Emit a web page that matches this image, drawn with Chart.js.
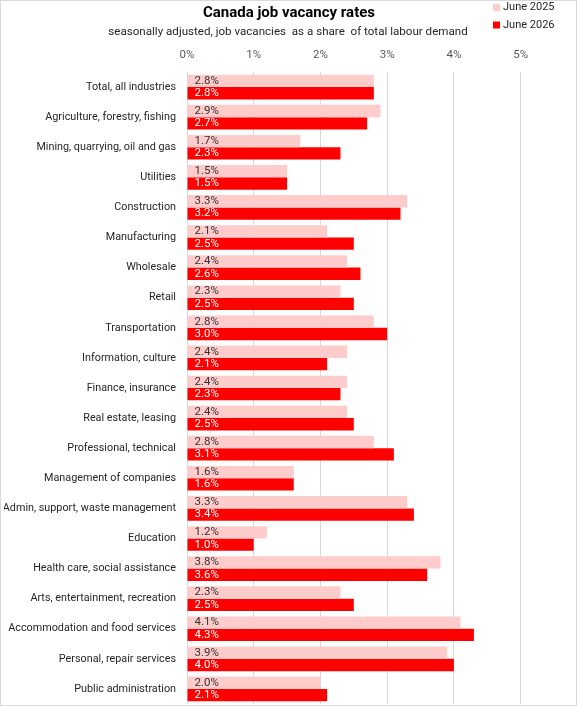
<!DOCTYPE html>
<html>
<head>
<meta charset="utf-8">
<script src="https://cdn.jsdelivr.net/npm/chart.js@4/dist/chart.umd.min.js"></script>
<style>
  html, body { margin: 0; padding: 0; background: #fff; }
  #wrap { position: relative; width: 577px; height: 706px; }
</style>
</head>
<body>
<div id="wrap"><canvas id="chart" width="577" height="706"></canvas></div>
<script>
const categories = [
  'Total, all industries', 'Agriculture, forestry, fishing', 'Mining, quarrying, oil and gas',
  'Utilities', 'Construction', 'Manufacturing', 'Wholesale', 'Retail', 'Transportation',
  'Information, culture', 'Finance, insurance', 'Real estate, leasing', 'Professional, technical',
  'Management of companies', 'Admin, support, waste management', 'Education',
  'Health care, social assistance', 'Arts, entertainment, recreation',
  'Accommodation and food services', 'Personal, repair services', 'Public administration'
];
const june2025 = [2.8, 2.9, 1.7, 1.5, 3.3, 2.1, 2.4, 2.3, 2.8, 2.4, 2.4, 2.4, 2.8, 1.6, 3.3, 1.2, 3.8, 2.3, 4.1, 3.9, 2.0];
const june2026 = [2.8, 2.7, 2.3, 1.5, 3.2, 2.5, 2.6, 2.5, 3.0, 2.1, 2.3, 2.5, 3.1, 1.6, 3.4, 1.0, 3.6, 2.5, 4.3, 4.0, 2.1];
const seriesNames = ['June 2025', 'June 2026'];
const seriesColors = ['#ffcccc', '#ff0000'];

const FONT = 'Roboto, sans-serif';

// values written at the base of each bar
const barLabels = {
  id: 'barLabels',
  afterDatasetsDraw(chart) {
    const ctx = chart.ctx;
    ctx.save();
    ctx.font = '11.5px ' + FONT;
    ctx.textAlign = 'left';
    ctx.textBaseline = 'middle';
    chart.data.datasets.forEach((ds, i) => {
      chart.getDatasetMeta(i).data.forEach((bar, j) => {
        ctx.fillStyle = i === 0 ? '#333333' : '#ffffff';
        ctx.fillText(ds.data[j].toFixed(1) + '%', bar.base + 7, bar.y);
      });
    });
    ctx.restore();
  }
};

// title, subtitle, legend and frame
const decor = {
  id: 'decor',
  afterDraw(chart) {
    const ctx = chart.ctx;
    ctx.save();
    ctx.fillStyle = '#000';
    ctx.textAlign = 'center';
    ctx.textBaseline = 'middle';
    ctx.font = 'bold 15px ' + FONT;
    ctx.fillText('Canada job vacancy rates', 289, 13);
    ctx.font = '11.6px ' + FONT;
    ctx.fillStyle = '#262626';
    ctx.fillText('seasonally adjusted, job vacancies  as a share  of total labour demand', 288, 32);

    ctx.textAlign = 'left';
    ctx.font = '11px ' + FONT;
    seriesNames.forEach((name, i) => {
      const y = 7.5 + i * 17.5;
      ctx.fillStyle = seriesColors[i];
      ctx.fillRect(493, y - 3.5, 7, 7);
      ctx.fillStyle = '#262626';
      ctx.fillText(name, 503, y);
    });

    ctx.strokeStyle = '#d9d9d9';
    ctx.lineWidth = 1;
    ctx.strokeRect(0.5, 0.5, chart.width - 1, chart.height - 1);
    ctx.restore();
  }
};

new Chart(document.getElementById('chart'), {
  type: 'bar',
  data: {
    labels: categories,
    datasets: [
      { label: seriesNames[0], data: june2025, backgroundColor: seriesColors[0] },
      { label: seriesNames[1], data: june2026, backgroundColor: seriesColors[1] }
    ]
  },
  options: {
    indexAxis: 'y',
    responsive: false,
    animation: false,
    devicePixelRatio: 1,
    layout: { padding: { top: 46, right: 23, bottom: 2, left: 4 } },
    datasets: { bar: { categoryPercentage: 0.82, barPercentage: 1.0 } },
    plugins: {
      legend: { display: false },
      title: { display: false },
      tooltip: { enabled: false }
    },
    scales: {
      x: {
        position: 'top',
        min: 0,
        max: 5.5,
        afterFit(scale) {
          scale.height = 26;
          scale.paddingLeft = 0;
          scale.paddingRight = 0;
        },
        ticks: {
          stepSize: 1,
          includeBounds: false,
          padding: 10,
          color: '#595959',
          font: { family: FONT, size: 11.5 },
          callback: (v) => (Number.isInteger(v) ? v + '%' : '')
        },
        grid: { color: '#d9d9d9', drawTicks: false },
        border: { display: false }
      },
      y: {
        afterFit(scale) {
          scale.width = 183;
          scale.paddingTop = 0;
          scale.paddingBottom = 0;
        },
        ticks: {
          padding: 11,
          color: '#262626',
          font: { family: FONT, size: 10.8 }
        },
        grid: { display: false, drawTicks: false },
        border: { display: false }
      }
    }
  },
  plugins: [barLabels, decor]
});
</script>
</body>
</html>
